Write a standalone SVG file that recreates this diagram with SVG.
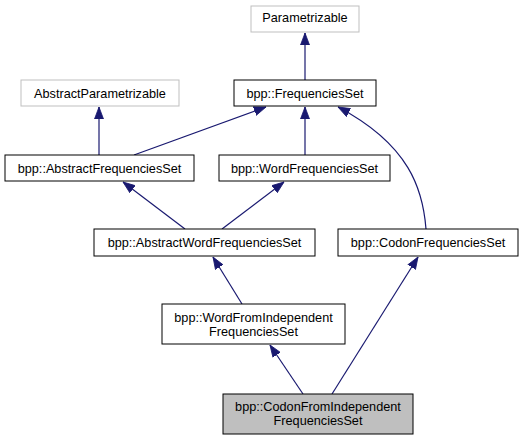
<svg xmlns="http://www.w3.org/2000/svg" width="527" height="440" viewBox="0 0 527 440">
<style>
.n rect{fill:#fff;stroke:#000;stroke-width:1}
.g rect{stroke:#bfbfbf}
.h rect{fill:#bfbfbf}
text{font-family:"Liberation Sans",Arial,sans-serif;font-size:12.7px;text-anchor:middle;fill:#000}
.e path{fill:none;stroke:#191970;stroke-width:1.2;marker-end:url(#ah)}
</style>
<defs>
<marker id="ah" viewBox="0 0 12 10" refX="12" refY="5" markerWidth="12" markerHeight="10" markerUnits="userSpaceOnUse" orient="auto">
<path d="M0,0.5 L12,5 L0,9.5 z" fill="#191970" stroke="#191970" stroke-width="0.8"/>
</marker>
</defs>
<rect width="527" height="440" fill="#fff"/>
<g class="e">
<path d="M305,80 L305,33"/>
<path d="M99,155 L99,107"/>
<path d="M134,155 L266,107"/>
<path d="M305,155 L305,107"/>
<path d="M426,229 C423,190 410,145 338,107"/>
<path d="M185,229 L123,182"/>
<path d="M222,229 L284,182"/>
<path d="M242,304 L213,257"/>
<path d="M303,394 L270,345"/>
<path d="M332,394 L418,257"/>
</g>
<g id="Parametrizable" class="n g"><rect x="251" y="6" width="108" height="26"/><text x="305" y="22">Parametrizable</text></g>
<g id="AbstractParametrizable" class="n g"><rect x="21" y="80" width="158" height="26"/><text x="100" y="97.5">AbstractParametrizable</text></g>
<g id="FrequenciesSet" class="n"><rect x="234" y="80" width="142" height="26"/><text x="305" y="97.5">bpp::FrequenciesSet</text></g>
<g id="AbstractFrequenciesSet" class="n"><rect x="5" y="155" width="189" height="26"/><text x="99.5" y="172.5">bpp::AbstractFrequenciesSet</text></g>
<g id="WordFrequenciesSet" class="n"><rect x="219" y="155" width="171" height="26"/><text x="304.5" y="172.5">bpp::WordFrequenciesSet</text></g>
<g id="AbstractWordFrequenciesSet" class="n"><rect x="94" y="229" width="221" height="27"/><text x="204.5" y="246.5">bpp::AbstractWordFrequenciesSet</text></g>
<g id="CodonFrequenciesSet" class="n"><rect x="338" y="229" width="180" height="27"/><text x="428" y="246.5">bpp::CodonFrequenciesSet</text></g>
<g id="WordFromIndependentFrequenciesSet" class="n"><rect x="162" y="304" width="183" height="40"/><text x="253.5" y="321.5">bpp::WordFromIndependent</text><text x="253.5" y="336">FrequenciesSet</text></g>
<g id="CodonFromIndependentFrequenciesSet" class="n h"><rect x="223" y="394" width="190" height="40"/><text x="318" y="410.5">bpp::CodonFromIndependent</text><text x="318" y="425">FrequenciesSet</text></g>
</svg>
